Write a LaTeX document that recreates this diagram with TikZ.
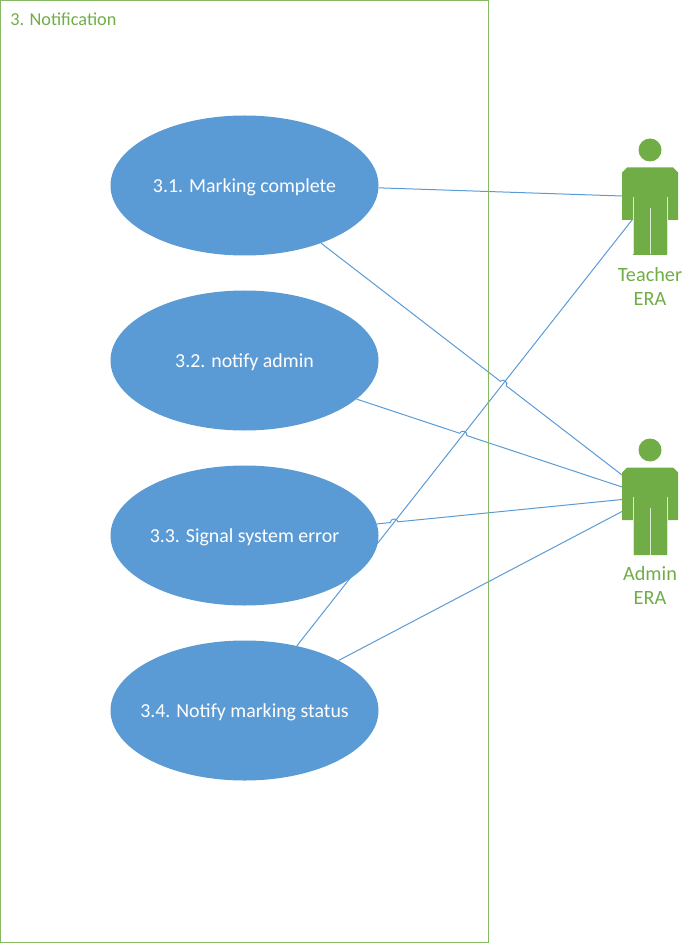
\documentclass[tikz,border=0pt]{standalone}
\usepackage{fontspec}
\setmainfont{Carlito}
\usetikzlibrary{shapes.geometric,calc,backgrounds}
\definecolor{ublue}{HTML}{5B9BD5}
\definecolor{ugreen}{HTML}{70AD47}
\newcommand{\pxu}{*0.75pt}
\newcommand{\ctext}[1]{\makebox[0pt][c]{\raisebox{-5.2pt}[0pt][0pt]{#1}}}
\tikzset{
  usecase/.style={ellipse,fill=ublue,draw=none,inner sep=0pt,minimum width=268\pxu,minimum height=140\pxu,text=white,font=\fontsize{14.9}{17}\selectfont},
  link/.style={draw=ublue,line width=0.75pt},
  frameline/.style={draw=ugreen!85!white,line width=0.75pt},
  greentext/.style={text=ugreen,align=center,inner sep=0pt},
  actorfill/.style={fill=ugreen,draw=none},
  actorline/.style={draw=white!75!ugreen,line width=0.7pt}
}
% actor figure; #1 name, #2 vertical offset
\newcommand{\actorfig}[2]{%
  \begin{scope}[shift={(0,#2)}]
    \fill[actorfill] (650,150) circle (11.5);
    \fill[actorfill] (627,167.5) -- (673,167.5) -- (678,172.5) -- (678,220) -- (667,220) -- (667,255) -- (633,255) -- (633,220) -- (622,220) -- (622,172.5) -- cycle;
    \draw[actorline] (633,197) -- (633,254.5);
    \draw[actorline] (667,197) -- (667,254.5);
    \draw[actorline] (650,208) -- (650,254.5);
    \coordinate (#1A) at (622,196);
    \coordinate (#1B) at (632,220);
    \coordinate (#1C) at (622,175);
    \coordinate (#1D) at (622,187);
    \coordinate (#1E) at (622,199.5);
    \coordinate (#1F) at (622,211.5);
  \end{scope}}
% connector from #1 to #2 with a small hop over the line #3--#4
\newcommand{\hoplink}[4]{%
  \coordinate (X) at (intersection of #1--#2 and #3--#4);
  \coordinate (X1) at ($(X)!2.8pt!(#1)$);
  \coordinate (X2) at ($(X)!2.8pt!(#2)$);
  \draw[link] (#1) -- (X1) .. controls ($(X1)!3.2pt!90:(X)$) and ($(X2)!3.2pt!-90:(X)$) .. (X2) -- (#2);}
\begin{document}
\begin{tikzpicture}[x=0.75pt,y=-0.75pt]
\useasboundingbox (0,0) rectangle (693,944);
\draw[frameline] (0.5,1) rectangle (488,942);
\node[greentext,anchor=west,font=\fontsize{13.7}{18}\selectfont] (title) at (10,19) {3. Notification};
\node[usecase] (e1) at (244.5,185.5) {\ctext{3.1. Marking complete}};
\node[usecase] (e2) at (244.5,360.5) {\ctext{3.2. notify admin}};
\node[usecase] (e3) at (244.5,535.5) {\ctext{3.3. Signal system error}};
\node[usecase] (e4) at (244.5,710.5) {\ctext{3.4. Notify marking status}};
\actorfig{t}{0}
\actorfig{a}{300}
\node[greentext,font=\fontsize{15.2}{18}\selectfont] (tlabel) at (650,286) {Teacher\\ERA};
\node[greentext,font=\fontsize{15.2}{18}\selectfont] (alabel) at (650,585) {Admin\\ERA};
\begin{pgfonlayer}{background}
\coordinate (p1) at (e1.-1.5);
\coordinate (p2) at (e1.-37.5);
\coordinate (p3) at (e2.-19);
\coordinate (p4) at (e3.5);
\coordinate (p5) at (e4.28);
\coordinate (p6) at (e4.51);
\draw[link] (p1) -- (tA);
\draw[link] (p6) -- (tB);
\hoplink{p2}{aC}{p6}{tB}
\hoplink{p3}{aD}{p6}{tB}
\hoplink{p4}{aE}{p6}{tB}
\draw[link] (p5) -- (aF);
\end{pgfonlayer}
\end{tikzpicture}
\end{document}
